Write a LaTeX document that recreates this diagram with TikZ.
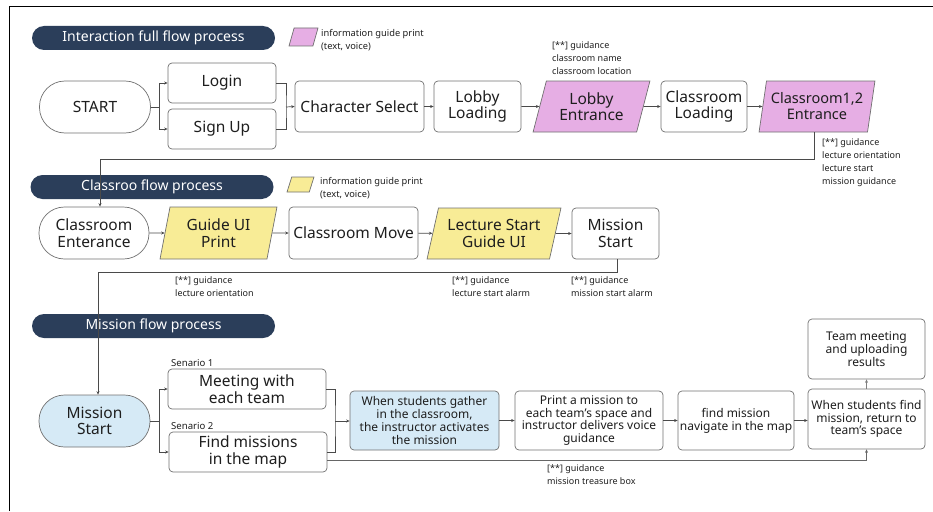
\documentclass[tikz,border=0pt]{standalone}
\usepackage{fontspec}
\setmainfont{Noto Sans}
\usetikzlibrary{arrows.meta,shapes.geometric}
\definecolor{navy}{HTML}{2B3E5A}
\definecolor{pinkc}{HTML}{E6AEE4}
\definecolor{yellowc}{HTML}{F8EC96}
\definecolor{bluec}{HTML}{D6EAF6}
\definecolor{boxgray}{HTML}{707070}
\definecolor{linegray}{HTML}{4A4A4A}
\definecolor{textc}{HTML}{1E1E1E}
\tikzset{
  big/.style={font=\fontsize{15.5}{16.5}\selectfont},
  small/.style={font=\fontsize{12}{12.8}\selectfont},
  note/.style={font=\fontsize{9}{13}\selectfont, align=left, inner sep=0pt, anchor=north west, text=textc},
  legendtext/.style={font=\fontsize{9.3}{12.5}\selectfont, align=left, inner sep=0pt, anchor=west, text=textc},
  senario/.style={font=\fontsize{9.6}{11}\selectfont, inner sep=0pt, anchor=west, text=textc},
  box/.style={draw=boxgray, line width=0.7pt, fill=white, rounded corners=4pt, align=center, inner sep=0pt, text=textc},
  stadium/.style={box, rounded corners=25.5pt},
  para/.style={trapezium, trapezium stretches=true, draw=boxgray, line width=0.7pt, align=center, inner sep=0pt, text=textc},
  pill/.style={fill=navy, rounded corners=12pt, text=white, minimum width=243pt, minimum height=24pt, inner sep=0pt, font=\fontsize{14}{14}\selectfont},
  link/.style={draw=linegray, line width=0.7pt},
  arr/.style={link, -{Stealth[length=3.5pt,width=3pt]}},
}
\begin{document}
\begin{tikzpicture}[x=1pt,y=-1pt]
\useasboundingbox (0,0) rectangle (933,511);
\draw[line width=1pt] (9,511) -- (9,7) -- (933,7);

% ---------- Row 1 ----------
\node[pill] (h1) at (153.5,38) {Interaction full flow process};
\node[para, fill=pinkc, trapezium left angle=75, trapezium right angle=105, minimum width=29pt, minimum height=18pt, font=\fontsize{6}{6}\selectfont] (lg1) at (303.5,37) {\phantom{x}};
\node[legendtext] (lt1) at (321,40) {information guide print\\(text, voice)};

\node[stadium, big, minimum width=111pt, minimum height=52pt] (start) at (95,107) {START};
\node[box, big, minimum width=108pt, minimum height=40pt] (login) at (222,83) {Login};
\node[box, big, minimum width=108pt, minimum height=40pt] (signup) at (222,129) {Sign Up};
\node[box, big, minimum width=129pt, minimum height=51pt] (charsel) at (359.5,106.5) {Character Select};
\node[box, big, minimum width=87pt, minimum height=51pt] (lobbyload) at (477.5,106.5) {Lobby\\Loading};
\node[para, big, fill=pinkc, trapezium left angle=71.6, trapezium right angle=108.4, minimum width=117pt, minimum height=51pt] (lobbyent) at (591.5,106.5) {Lobby\\Entrance};
\node[box, big, minimum width=86pt, minimum height=51pt] (classload) at (704,106.5) {Classroom\\Loading};
\node[para, fill=pinkc, trapezium left angle=76, trapezium right angle=104, minimum width=116pt, minimum height=51pt, font=\fontsize{14.5}{16}\selectfont] (classent) at (817,106.5) {Classroom1,2\\Entrance};

\node[note] (n1) at (552,41) {[**] guidance\\classroom name\\classroom location};
\node[note] (n2) at (822,138) {[**] guidance\\lecture orientation\\lecture start\\mission guidance};

% ---------- Row 2 ----------
\node[pill] (h2) at (152,187) {Classroo flow process};
\node[para, fill=yellowc, trapezium left angle=75, trapezium right angle=105, minimum width=27pt, minimum height=15pt, font=\fontsize{6}{6}\selectfont] (lg2) at (300.5,184.5) {\phantom{x}};
\node[legendtext] (lt2) at (320,188) {information guide print\\(text, voice)};

\node[stadium, big, minimum width=110pt, minimum height=52pt] (cent) at (94,233) {Classroom\\Enterance};
\node[para, big, fill=yellowc, trapezium left angle=77, trapezium right angle=103, minimum width=117pt, minimum height=52pt] (gui) at (218.5,233) {Guide UI\\Print};
\node[box, big, minimum width=129pt, minimum height=52pt] (cmove) at (353.5,233) {Classroom Move};
\node[para, big, fill=yellowc, trapezium left angle=71, trapezium right angle=109, minimum width=134pt, minimum height=51pt] (lsg) at (494,233.5) {Lecture Start\\Guide UI};
\node[box, big, minimum width=87pt, minimum height=51pt] (ms2) at (615.5,233.5) {Mission\\Start};

\node[note] (n3) at (175,276) {[**] guidance\\lecture orientation};
\node[note] (n4) at (452,276) {[**] guidance\\lecture start alarm};
\node[note] (n5) at (571,276) {[**] guidance\\mission start alarm};

% ---------- Row 3 ----------
\node[pill] (h3) at (153.5,326) {Mission flow process};
\node[stadium, big, fill=bluec, minimum width=111pt, minimum height=52pt] (ms3) at (94.5,421) {Mission\\Start};
\node[senario] (s1) at (171,363) {Senario 1};
\node[box, big, minimum width=158pt, minimum height=40pt] (meet) at (247,389) {Meeting with\\each team};
\node[senario] (s2) at (171,426) {Senario 2};
\node[box, big, minimum width=158pt, minimum height=40pt] (find) at (248,452) {Find missions\\in the map};
\node[box, small, fill=bluec, minimum width=149pt, minimum height=59pt] (act) at (424.5,420.5) {When students gather\\in the classroom,\\the instructor activates\\the mission};
\node[box, small, minimum width=148pt, minimum height=59pt] (print) at (589,420.5) {Print a mission to\\each team’s space and\\instructor delivers voice\\guidance};
\node[box, small, minimum width=116pt, minimum height=59pt] (nav) at (736,420.5) {find mission\\navigate in the map};
\node[box, small, minimum width=117pt, minimum height=60pt] (ret) at (866.5,419) {When students find\\mission, return to\\team’s space};
\node[box, small, minimum width=117pt, minimum height=60pt] (team) at (866.5,349) {Team meeting\\and uploading\\results};
\node[note] (n6) at (547,464) {[**] guidance\\mission treasure box};

% ---------- Connectors ----------
\coordinate (a1) at (159,107);
\draw[link] (start.east) -- (a1);
\draw[arr] (a1) |- (login.west);
\draw[arr] (a1) |- (signup.west);
\coordinate (b1) at (286,107);
\draw[link] (login.east) -| (b1) |- (signup.east);
\draw[arr] (b1) -- (charsel.west);
\draw[arr] (charsel) -- (lobbyload);
\draw[arr] (lobbyload) -- (lobbyent);
\draw[arr] (lobbyent) -- (classload);
\draw[arr] (classload) -- (classent);
\coordinate (c1) at (100,159);
\draw[arr] ([xshift=-3pt]classent.south) |- (c1) -- (c1 |- cent.north);

\draw[arr] (cent) -- (gui);
\draw[arr] (gui) -- (cmove);
\draw[arr] (cmove) -- (lsg);
\draw[arr] (lsg) -- (ms2);
\coordinate (c2) at (98,272);
\draw[arr] ([xshift=1.5pt]ms2.south) |- (c2) -- (c2 |- ms3.north);

\coordinate (a3) at (159,421);
\draw[link] (ms3.east) -- (a3);
\draw[arr] (a3) |- (meet.west);
\draw[arr] (a3) |- (find.west);
\coordinate (b3) at (335,421);
\draw[link] (meet.east) -| (b3) |- (find.east);
\draw[arr] (b3) -- (b3 -| act.west);
\draw[arr] (act) -- (print);
\draw[arr] (print) -- (nav);
\draw[arr] (nav.east) -- (nav.east -| ret.west);
\draw[arr, draw=gray] (ret) -- (team);
\draw[arr, draw=gray!80!black] ([yshift=-8pt]find.east) -| (ret.south);
\end{tikzpicture}
\end{document}
